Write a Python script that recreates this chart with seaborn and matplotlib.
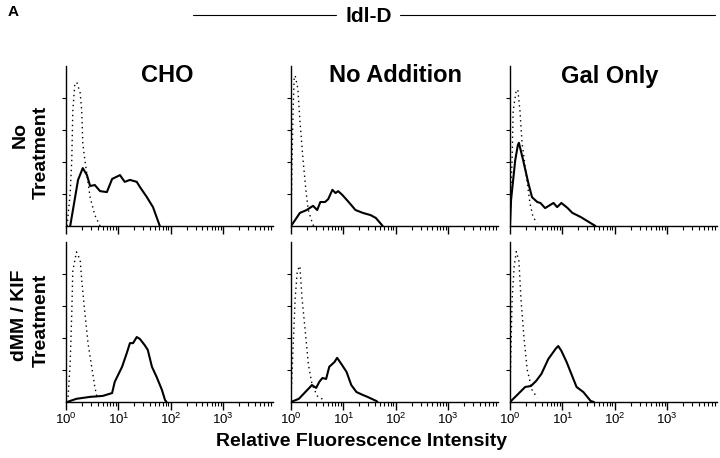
import numpy as np
import pandas as pd
import matplotlib
matplotlib.use("Agg")
import matplotlib.pyplot as plt
import seaborn as sns
from matplotlib.ticker import FixedLocator, NullFormatter, FixedFormatter

sns.set_style("white")
plt.rcParams['font.family'] = ['Liberation Sans', 'DejaVu Sans']
plt.rcParams['text.color'] = 'black'
plt.rcParams['xtick.color'] = 'black'
plt.rcParams['ytick.color'] = 'black'
plt.rcParams['axes.edgecolor'] = 'black'

# ---- data (x in decades of log10 fluorescence, y in relative counts) ----
columns = ["CHO", "No Addition", "Gal Only"]
rows = ["No\nTreatment", "dMM / KIF\nTreatment"]
tick_labels = ["$\\mathregular{10^{0}}$", "$\\mathregular{10^{1}}$",
               "$\\mathregular{10^{2}}$", "$\\mathregular{10^{3}}$"]

# Top row, CHO
cho_nt_solid_x = [0.08, 0.23, 0.32, 0.40, 0.46, 0.55, 0.65, 0.78, 0.88, 1.03, 1.12, 1.22, 1.35, 1.41, 1.54, 1.66, 1.79]
cho_nt_solid_y = [0.0, 1.44, 1.81, 1.59, 1.25, 1.28, 1.09, 1.06, 1.47, 1.59, 1.38, 1.44, 1.38, 1.22, 0.91, 0.59, 0.0]
cho_nt_dot_x = [0.02, 0.08, 0.11, 0.13, 0.17, 0.21, 0.27, 0.30, 0.32, 0.36, 0.46, 0.55, 0.65]
cho_nt_dot_y = [0.0, 1.03, 2.06, 3.60, 4.47, 4.47, 4.16, 3.60, 2.60, 2.06, 0.90, 0.34, 0.0]

# Top row, No Addition
noadd_nt_solid_x = [0.0, 0.08, 0.17, 0.30, 0.42, 0.50, 0.56, 0.65, 0.71, 0.79, 0.85, 0.90, 0.98, 1.10, 1.23, 1.37, 1.52, 1.62, 1.75]
noadd_nt_solid_y = [0.0, 0.19, 0.41, 0.50, 0.63, 0.50, 0.75, 0.75, 0.84, 1.13, 1.03, 1.09, 0.97, 0.75, 0.50, 0.41, 0.34, 0.25, 0.0]
noadd_nt_dot_x = [0.0, 0.02, 0.04, 0.06, 0.08, 0.13, 0.17, 0.23, 0.29, 0.33, 0.40, 0.43]
noadd_nt_dot_y = [0.19, 2.06, 3.60, 4.60, 4.70, 4.30, 3.30, 2.06, 1.03, 0.50, 0.13, 0.0]

# Top row, Gal Only
gal_nt_solid_x = [0.0, 0.02, 0.10, 0.15, 0.17, 0.25, 0.35, 0.42, 0.52, 0.58, 0.67, 0.83, 0.90, 0.98, 1.10, 1.19, 1.35, 1.44, 1.63]
gal_nt_solid_y = [0.0, 0.81, 2.06, 2.53, 2.60, 2.06, 1.34, 0.90, 0.75, 0.72, 0.56, 0.72, 0.59, 0.72, 0.56, 0.41, 0.28, 0.19, 0.0]
gal_nt_dot_x = [0.0, 0.04, 0.06, 0.12, 0.15, 0.19, 0.23, 0.33, 0.38, 0.44, 0.52]
gal_nt_dot_y = [0.41, 2.06, 3.60, 4.25, 4.25, 3.60, 2.60, 1.34, 0.72, 0.28, 0.09]

# Bottom row, CHO
cho_dk_solid_x = [0.02, 0.20, 0.46, 0.70, 0.88, 0.93, 1.07, 1.16, 1.22, 1.28, 1.35, 1.41, 1.50, 1.56, 1.64, 1.73, 1.83, 1.89, 1.92]
cho_dk_solid_y = [0.0, 0.10, 0.16, 0.19, 0.28, 0.63, 1.10, 1.53, 1.84, 1.84, 2.03, 1.97, 1.78, 1.63, 1.10, 0.78, 0.38, 0.06, 0.0]
cho_dk_dot_x = [0.04, 0.08, 0.11, 0.13, 0.20, 0.27, 0.30, 0.36, 0.42, 0.50, 0.55, 0.59]
cho_dk_dot_y = [0.16, 1.22, 2.78, 4.10, 4.69, 4.44, 3.81, 2.78, 1.84, 1.00, 0.47, 0.16]

# Bottom row, No Addition
noadd_dk_solid_x = [0.0, 0.15, 0.29, 0.40, 0.48, 0.54, 0.60, 0.67, 0.73, 0.83, 0.88, 0.96, 1.06, 1.15, 1.25, 1.37, 1.46, 1.63, 1.65]
noadd_dk_solid_y = [0.0, 0.10, 0.34, 0.53, 0.44, 0.63, 0.75, 0.72, 1.10, 1.25, 1.38, 1.19, 0.94, 0.53, 0.31, 0.22, 0.16, 0.03, 0.0]
noadd_dk_dot_x = [0.0, 0.04, 0.08, 0.12, 0.17, 0.21, 0.29, 0.33, 0.40, 0.50, 0.60]
noadd_dk_dot_y = [0.10, 1.70, 3.25, 4.10, 4.25, 3.25, 1.91, 1.19, 0.56, 0.19, 0.09]

# Bottom row, Gal Only
gal_dk_solid_x = [0.0, 0.10, 0.29, 0.40, 0.50, 0.60, 0.73, 0.87, 0.92, 0.98, 1.08, 1.17, 1.27, 1.40, 1.54, 1.60]
gal_dk_solid_y = [0.0, 0.16, 0.47, 0.50, 0.66, 0.88, 1.34, 1.66, 1.75, 1.60, 1.25, 0.88, 0.47, 0.31, 0.03, 0.0]
gal_dk_dot_x = [0.0, 0.04, 0.08, 0.12, 0.17, 0.21, 0.27, 0.33, 0.42, 0.52]
gal_dk_dot_y = [0.30, 3.20, 4.25, 4.70, 4.40, 3.20, 1.95, 1.00, 0.38, 0.13]

panels = [
    [(cho_nt_solid_x, cho_nt_solid_y, cho_nt_dot_x, cho_nt_dot_y),
     (noadd_nt_solid_x, noadd_nt_solid_y, noadd_nt_dot_x, noadd_nt_dot_y),
     (gal_nt_solid_x, gal_nt_solid_y, gal_nt_dot_x, gal_nt_dot_y)],
    [(cho_dk_solid_x, cho_dk_solid_y, cho_dk_dot_x, cho_dk_dot_y),
     (noadd_dk_solid_x, noadd_dk_solid_y, noadd_dk_dot_x, noadd_dk_dot_y),
     (gal_dk_solid_x, gal_dk_solid_y, gal_dk_dot_x, gal_dk_dot_y)],
]

W, H = 720, 458
fig = plt.figure(figsize=(W / 100, H / 100), dpi=100)

col_left = [66, 291, 510]
ax_w = 207
row_top = [66, 242]
ax_h = 160

minor = [m * 10 ** d for d in range(4) for m in range(2, 10)]

for r in range(2):
    for c in range(3):
        l = col_left[c]
        t = row_top[r]
        ax = fig.add_axes([l / W, 1 - (t + ax_h) / H, ax_w / W, ax_h / H])
        sx, sy, dx, dy = panels[r][c]
        solid = pd.DataFrame({"x": 10 ** np.array(sx), "y": sy})
        dot = pd.DataFrame({"x": 10 ** np.array(dx), "y": dy})
        sns.lineplot(data=dot, x="x", y="y", ax=ax, color="black", lw=1.0,
                     linestyle=(0, (1, 2.6)), sort=False)
        sns.lineplot(data=solid, x="x", y="y", ax=ax, color="black", lw=1.5, sort=False)
        ax.set_xscale("log")
        ax.set_xlim(1, 10 ** 3.95)
        ax.set_ylim(0, 5)
        ax.set_xlabel("")
        ax.set_ylabel("")
        for s in ["top", "right"]:
            ax.spines[s].set_visible(False)
        for s in ["left", "bottom"]:
            ax.spines[s].set_linewidth(1.0)
            ax.spines[s].set_color("black")
        ax.xaxis.set_major_locator(FixedLocator([1, 10, 100, 1000]))
        ax.xaxis.set_minor_locator(FixedLocator(minor))
        ax.xaxis.set_minor_formatter(NullFormatter())
        if r == 1:
            ax.xaxis.set_major_formatter(FixedFormatter(tick_labels))
        else:
            ax.xaxis.set_major_formatter(NullFormatter())
        ax.tick_params(axis="x", which="major", direction="out", length=6, width=1,
                       labelsize=9.5, pad=1, bottom=True, colors="black")
        ax.tick_params(axis="x", which="minor", direction="out", length=3, width=0.8,
                       bottom=True, colors="black")
        ax.set_yticks([1, 2, 3, 4])
        ax.set_yticklabels([])
        ax.tick_params(axis="y", which="major", direction="out", length=3, width=0.8,
                       left=True, colors="black")
        ax.patch.set_alpha(0)
        if r == 0:
            fig.text([167, 395, 610][c] / W, 1 - 76 / H, columns[c],
                     ha="center", va="center", fontsize=17, fontweight="bold", color="black")

# row labels
fig.text(20 / W, 1 - 135 / H, "No", rotation=90, ha="center", va="center",
         fontsize=14, fontweight="bold", color="black")
fig.text(41 / W, 1 - 152 / H, "Treatment", rotation=90, ha="center", va="center",
         fontsize=14, fontweight="bold", color="black")
fig.text(20 / W, 1 - 315 / H, "dMM / KIF", rotation=90, ha="center", va="center",
         fontsize=14, fontweight="bold", color="black")
fig.text(41 / W, 1 - 320 / H, "Treatment", rotation=90, ha="center", va="center",
         fontsize=14, fontweight="bold", color="black")

# header
fig.text(8 / W, 1 - 12 / H, "A", ha="left", va="center", fontsize=11, fontweight="bold", color="black")
fig.text(369 / W, 1 - 16 / H, "ldl-D", ha="center", va="center", fontsize=15, fontweight="bold", color="black")
fig.add_artist(plt.Line2D([193 / W, 336 / W], [1 - 15 / H, 1 - 15 / H], color="black", lw=0.8))
fig.add_artist(plt.Line2D([400 / W, 715 / W], [1 - 15 / H, 1 - 15 / H], color="black", lw=0.8))

fig.text(362 / W, 1 - 442 / H, "Relative Fluorescence Intensity", ha="center", va="center",
         fontsize=14, fontweight="bold", color="black")

fig.savefig("out.png", dpi=100, facecolor="white")
